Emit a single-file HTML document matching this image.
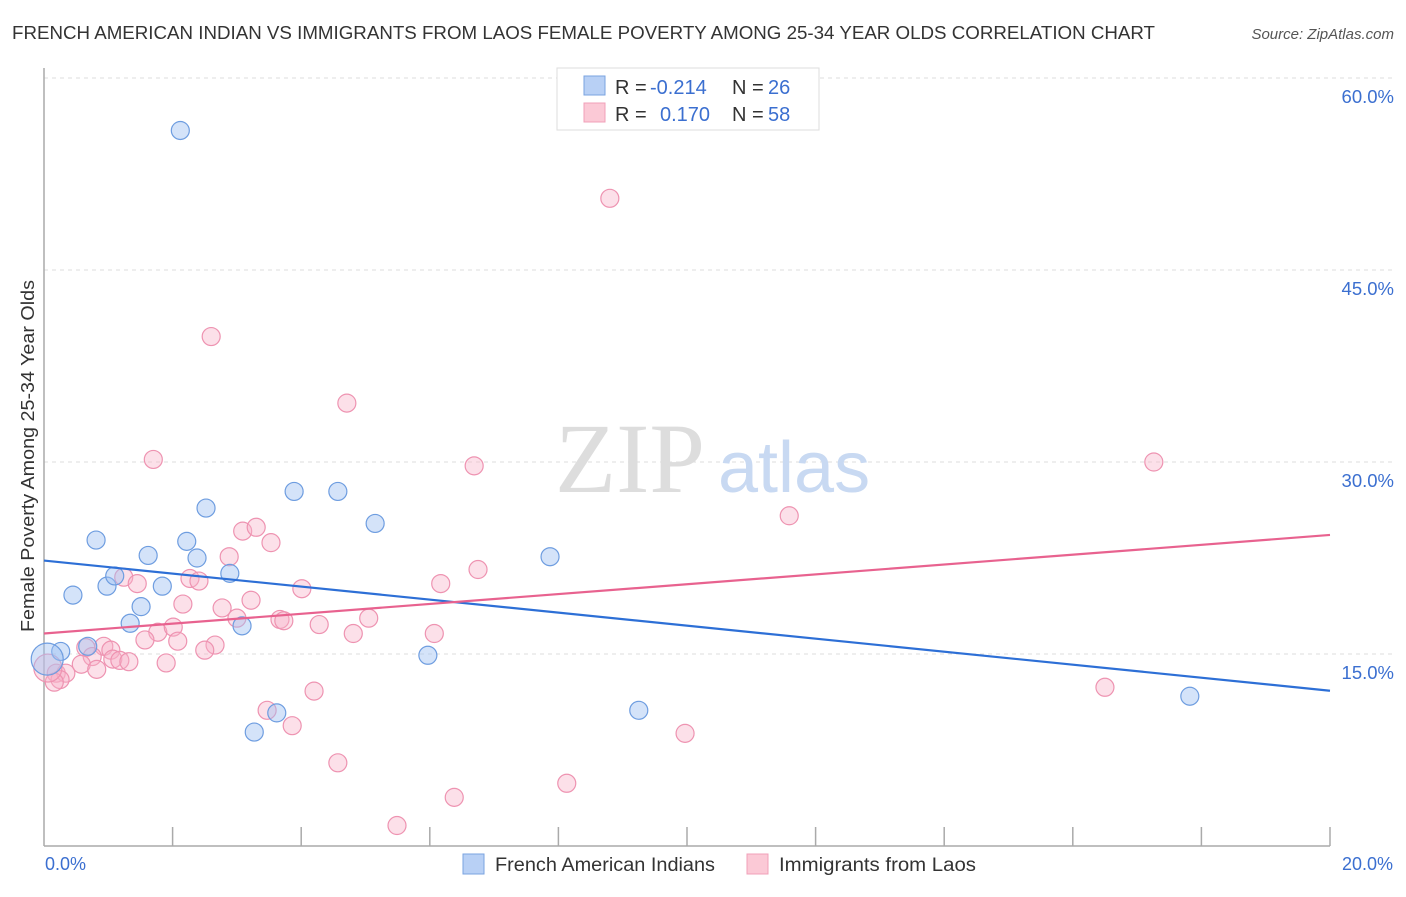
<!DOCTYPE html>
<html><head><meta charset="utf-8"><style>
body{margin:0;background:#fff;font-family:"Liberation Sans",sans-serif;}
</style></head><body>
<svg width="1406" height="892" viewBox="0 0 1406 892" xmlns="http://www.w3.org/2000/svg">
<text x="12" y="39" font-size="18" fill="#333" textLength="1143" lengthAdjust="spacingAndGlyphs">FRENCH AMERICAN INDIAN VS IMMIGRANTS FROM LAOS FEMALE POVERTY AMONG 25-34 YEAR OLDS CORRELATION CHART</text>
<text x="1394" y="39" font-size="15" fill="#555" text-anchor="end" font-style="italic">Source: ZipAtlas.com</text>
<g id="grid"></g>
<text x="555" y="492" font-size="100" font-family="Liberation Serif,serif" fill="#ddd">ZIP</text>
<text x="718" y="492" font-size="72" fill="#c8d9f2">atlas</text>
<g id="axes"></g>
<g id="pts"></g>
<g id="lines"></g>
<text transform="translate(34,456) rotate(-90)" font-size="18" fill="#333" text-anchor="middle" textLength="352" lengthAdjust="spacingAndGlyphs">Female Poverty Among 25-34 Year Olds</text>
<text x="45" y="870" font-size="18" fill="#3b6fd0">0.0%</text>
<text x="1393" y="870" font-size="18" fill="#3b6fd0" text-anchor="end">20.0%</text>
<g>
<rect x="557" y="68" width="262" height="62" fill="#fff" stroke="#ddd"/>
<rect x="584" y="76" width="21" height="19" fill="#b8d0f5" stroke="#7aa3e0"/>
<rect x="584" y="103" width="21" height="19" fill="#fbc9d6" stroke="#f0a0b8"/>
<text x="615" y="94" font-size="20" fill="#333">R = <tspan x="650" fill="#3b6fd0">-0.214</tspan><tspan x="732">N = </tspan><tspan x="768" fill="#3b6fd0">26</tspan></text>
<text x="615" y="121" font-size="20" fill="#333">R = <tspan x="660" fill="#3b6fd0">0.170</tspan><tspan x="732">N = </tspan><tspan x="768" fill="#3b6fd0">58</tspan></text>
</g>
<g>
<rect x="463" y="854" width="21" height="20" fill="#b8d0f5" stroke="#7aa3e0"/>
<text x="495" y="871" font-size="19" fill="#333" textLength="220" lengthAdjust="spacingAndGlyphs">French American Indians</text>
<rect x="747" y="854" width="21" height="20" fill="#fbc9d6" stroke="#f0a0b8"/>
<text x="779" y="871" font-size="19" fill="#333" textLength="197" lengthAdjust="spacingAndGlyphs">Immigrants from Laos</text>
</g>
</svg>
<script>
const yTicks=[15,30,45,60];
const yTickLabels=["15.0%","30.0%","45.0%","60.0%"];
const xTicks=[0,2,4,6,8,10,12,14,16,18,20];
const blueX=[2.12,0.81,0.45,0.98,1.10,1.62,1.51,1.34,1.84,2.22,2.38,2.52,2.89,3.08,3.89,4.57,5.15,3.62,3.27,5.97,7.87,9.25,17.82,0.68,0.26,0.05];
const blueY=[55.9,23.9,19.6,20.3,21.1,22.7,18.7,17.4,20.3,23.8,22.5,26.4,21.3,17.2,27.7,27.7,25.2,10.4,8.9,14.9,22.6,10.6,11.7,15.6,15.2,14.6];
const pinkX=[8.80,2.60,4.71,1.70,6.69,17.26,11.59,3.09,3.30,3.53,2.88,6.75,1.24,1.45,2.27,2.41,6.17,4.01,2.16,3.22,2.77,3.00,3.67,3.73,4.28,5.05,1.77,2.01,1.57,2.08,4.81,6.07,2.66,2.50,0.93,0.65,1.04,0.75,1.07,1.18,1.32,0.58,0.82,1.90,0.19,0.34,0.25,0.16,16.50,4.20,3.47,3.86,9.97,4.57,8.13,6.38,5.49,0.06];
const pinkY=[50.6,39.8,34.6,30.2,29.7,30.0,25.8,24.6,24.9,23.7,22.6,21.6,21.0,20.5,20.9,20.7,20.5,20.1,18.9,19.2,18.6,17.8,17.7,17.6,17.3,17.8,16.7,17.1,16.1,16.0,16.6,16.6,15.7,15.3,15.6,15.5,15.3,14.8,14.6,14.5,14.4,14.2,13.8,14.3,13.5,13.5,13.0,12.8,12.4,12.1,10.6,9.4,8.8,6.5,4.9,3.8,1.6,13.9];
const blueLine=[22.3,12.13];
const pinkLine=[16.6,24.3];
const NS="http://www.w3.org/2000/svg";
const X0=44,X1=1330,Y0=846,Y60=78;
const sx=v=>X0+(X1-X0)*v/20;
const sy=v=>Y0-(Y0-Y60)*v/60;
function mk(tag,attrs,parent){const e=document.createElementNS(NS,tag);for(const k in attrs)e.setAttribute(k,attrs[k]);document.getElementById(parent).appendChild(e);return e;}
yTicks.forEach((t,i)=>{
 const l=mk('line',{x1:X0,x2:1394,y1:sy(t),y2:sy(t),stroke:'#ddd','stroke-dasharray':'4,4'},'grid');
 
 
 const tx=mk('text',{x:1394,y:sy(t)+25,'font-size':18.5,fill:'#3b6fd0','text-anchor':'end'},'grid');
 tx.textContent=yTickLabels[i];
 
 
});
const ya=mk('line',{x1:X0,x2:X0,y1:68,y2:Y0,stroke:'#aaa','stroke-width':1.5},'axes');


const xa=mk('line',{x1:X0,x2:X1,y1:Y0,y2:Y0,stroke:'#aaa','stroke-width':1.5},'axes');


xTicks.slice(1).forEach(t=>{
 const tk=mk('line',{x1:sx(t),x2:sx(t),y1:Y0-19,y2:Y0,stroke:'#aaa','stroke-width':1.5},'axes');
 
 
});
function pt(x,y,r,fill,stroke,name){
 const c=mk('circle',{cx:sx(x),cy:sy(y),r:r,fill:fill,stroke:stroke,'stroke-width':1.2},'pts');
 
 
}
pinkX.forEach((x,i)=>pt(x,pinkY[i],i==pinkX.length-1?14:9,'rgba(248,178,200,0.4)','#ee93b1','laos-point'));
blueX.forEach((x,i)=>pt(x,blueY[i],i==blueX.length-1?16:9,'rgba(160,192,242,0.45)','#6e9de0','french-point'));
const bl=mk('line',{x1:sx(0),y1:sy(blueLine[0]),x2:sx(20),y2:sy(blueLine[1]),stroke:'#2d6fd6','stroke-width':2.2},'lines');


const pl=mk('line',{x1:sx(0),y1:sy(pinkLine[0]),x2:sx(20),y2:sy(pinkLine[1]),stroke:'#e8628f','stroke-width':2.2},'lines');


</script>
</body></html>
